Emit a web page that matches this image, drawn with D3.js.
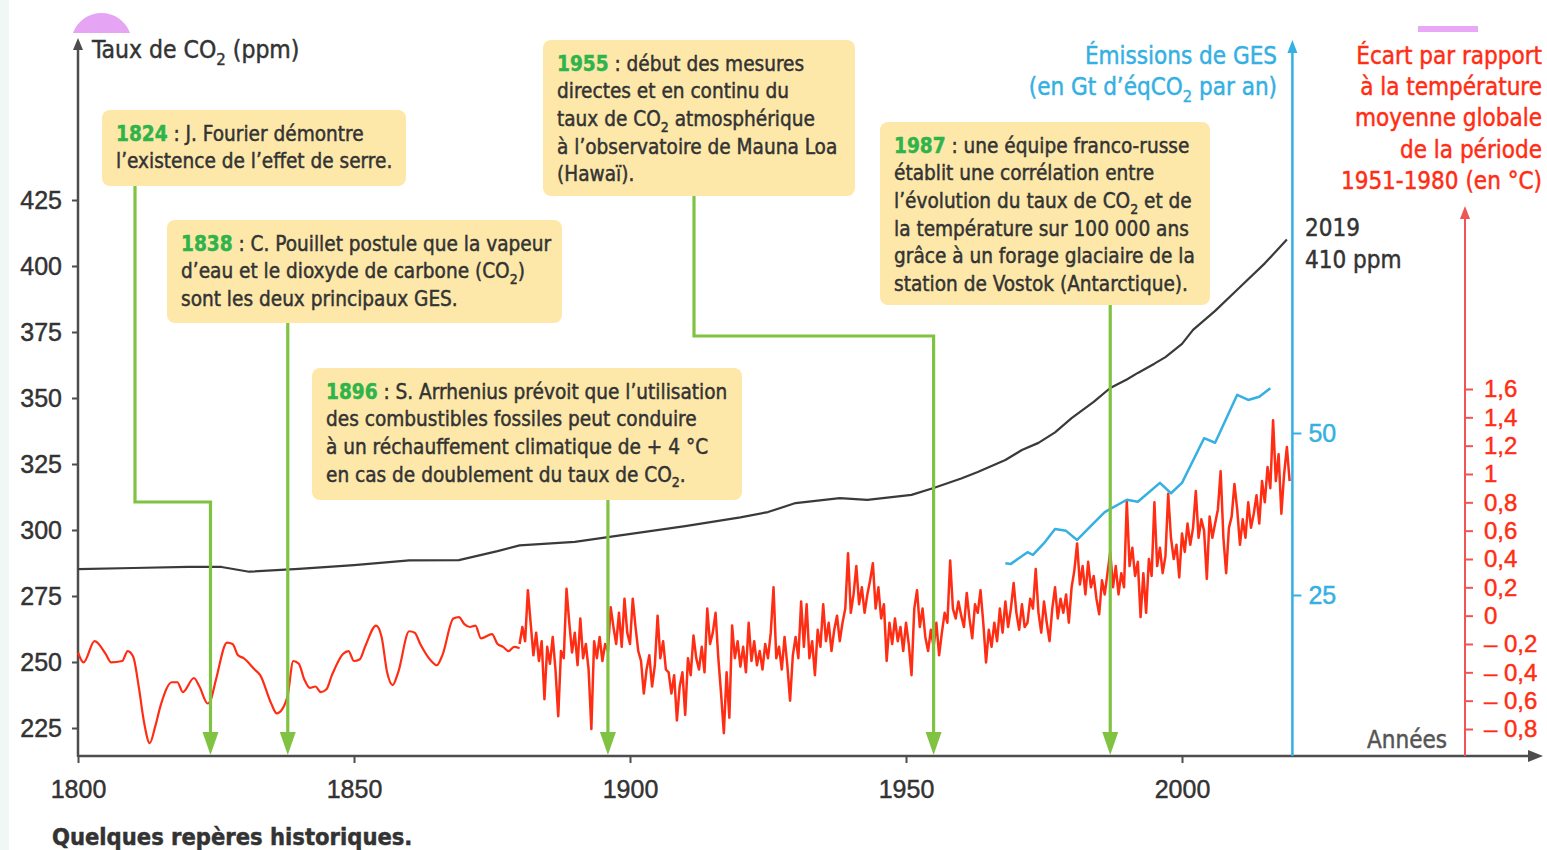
<!DOCTYPE html>
<html lang="fr">
<head>
<meta charset="utf-8">
<script src="https://cdn.jsdelivr.net/npm/d3@7"></script>
<style>
    body { margin: 0; background: #fff; }
    svg { display: block; font-family: "DejaVu Sans Condensed", "Liberation Sans", Arial, sans-serif; }
</style>
</head>
<body>
<script>
// --- data ---

// CO2 (ppm), left axis
const co2Years  = [1800, 1810, 1820, 1826, 1831, 1840, 1850, 1860, 1869, 1876, 1880, 1890, 1896, 1910, 1920, 1925, 1930, 1938, 1943, 1951, 1955, 1960, 1963, 1968, 1971, 1974, 1977, 1980, 1984, 1987, 1990, 1992, 1995, 1997, 2000, 2002, 2006, 2010, 2015, 2019];
const co2Values = [285.2, 285.6, 286.0, 286.0, 284.2, 285.3, 286.7, 288.5, 288.6, 292.0, 294.2, 295.5, 297.3, 301.5, 304.8, 306.8, 310.2, 312.1, 311.4, 313.3, 315.9, 319.5, 322.0, 326.5, 330.3, 333.0, 337.0, 342.4, 348.5, 353.8, 357.0, 359.5, 363.0, 365.5, 370.5, 375.8, 383.0, 391.0, 401.0, 410.0];

// GHG emissions (Gt CO2eq / year), blue axis
const gesYears  = [1968, 1969, 1972, 1973, 1975, 1977, 1979, 1981, 1984, 1986, 1990, 1992, 1996, 1998, 2000, 2004, 2006, 2010, 2012, 2014, 2016];
const gesValues = [29.9, 29.8, 31.6, 31.2, 33.0, 35.2, 34.9, 33.5, 36.1, 37.8, 39.7, 39.4, 42.3, 40.7, 42.3, 49.2, 48.5, 55.9, 55.1, 55.6, 56.9];

// temperature anomaly (°C), red axis -- smoothed reconstruction 1800-1880
const tempSmoothYears  = [1800, 1801, 1803, 1805, 1806, 1808, 1809, 1810, 1811, 1812, 1813, 1814, 1815, 1817, 1818, 1819, 1821, 1822, 1823.5, 1824, 1825, 1827, 1828, 1829, 1830, 1832, 1833, 1835, 1836, 1837, 1838, 1839, 1840, 1841, 1842, 1843, 1844, 1845, 1846, 1848, 1849, 1850, 1851, 1852, 1854, 1855, 1856, 1857, 1858, 1860, 1861, 1862, 1864, 1865, 1866, 1868, 1869, 1870, 1871, 1872, 1873, 1875, 1876, 1877, 1878, 1879, 1880];
const tempSmoothValues = [-0.26, -0.33, -0.18, -0.27, -0.33, -0.32, -0.25, -0.29, -0.50, -0.76, -0.90, -0.78, -0.63, -0.47, -0.47, -0.54, -0.44, -0.50, -0.62, -0.60, -0.45, -0.19, -0.20, -0.28, -0.30, -0.38, -0.42, -0.62, -0.69, -0.66, -0.56, -0.32, -0.34, -0.45, -0.51, -0.50, -0.54, -0.52, -0.42, -0.27, -0.25, -0.32, -0.31, -0.22, -0.07, -0.15, -0.40, -0.49, -0.40, -0.11, -0.12, -0.20, -0.32, -0.35, -0.28, -0.02, -0.01, -0.06, -0.08, -0.07, -0.16, -0.13, -0.20, -0.22, -0.25, -0.22, -0.23];

// measured anomaly 1880-2019, two readings per year (January, July)
const tempHalfStart = 1880;
const tempHalf = [
    -0.20, -0.08, -0.18, 0.18, -0.05, -0.28, -0.12, -0.32, -0.18, -0.59, -0.22, -0.34, -0.15, -0.38, -0.71, -0.25, -0.30, 0.19, -0.05, -0.26,
    -0.12, -0.35, -0.02, -0.30, -0.20, -0.38, -0.80, -0.18, -0.30, -0.15, -0.32, -0.20, -0.25, 0.06, -0.08, -0.20, 0.02, -0.22, 0.12, -0.12,
    -0.20, 0.12, -0.08, -0.25, -0.32, -0.55, -0.38, -0.28, -0.50, -0.35, 0.00, -0.30, -0.18, -0.38, -0.40, -0.55, -0.42, -0.74, -0.50, -0.40,
    -0.70, -0.30, -0.42, -0.14, -0.30, -0.38, -0.22, -0.40, 0.05, -0.20, -0.12, 0.02, -0.30, -0.55, -0.83, -0.40, -0.72, -0.07, -0.30, -0.18,
    -0.36, -0.22, -0.40, -0.05, -0.32, -0.18, -0.35, -0.25, -0.38, -0.20, -0.30, -0.12, 0.20, -0.30, -0.22, -0.38, -0.15, -0.35, -0.60, -0.28,
    -0.15, -0.30, 0.10, -0.22, 0.08, -0.30, -0.18, -0.42, -0.10, -0.22, 0.08, -0.18, -0.05, -0.25, -0.10, 0.00, -0.18, -0.05, 0.05, 0.44,
    0.02, 0.15, 0.35, 0.08, 0.20, 0.02, 0.15, 0.25, 0.37, 0.05, 0.20, -0.02, 0.08, -0.32, -0.05, -0.20, -0.02, -0.18, -0.08, -0.25,
    -0.05, -0.20, -0.42, 0.05, 0.18, -0.08, 0.05, -0.15, -0.25, -0.10, -0.22, -0.05, -0.28, -0.12, 0.02, -0.05, 0.39, 0.05, -0.02, 0.10,
    0.00, -0.08, 0.16, -0.02, -0.16, 0.08, 0.02, 0.18, -0.05, -0.33, -0.10, -0.22, -0.05, -0.18, 0.05, -0.12, 0.10, -0.08, 0.05, 0.23,
    0.02, -0.10, 0.08, -0.08, -0.05, 0.12, 0.05, 0.33, 0.02, -0.12, 0.10, -0.05, -0.18, 0.05, 0.20, -0.02, 0.12, 0.02, 0.15, -0.05,
    0.20, 0.32, 0.51, 0.22, 0.35, 0.15, 0.38, 0.20, 0.28, 0.12, 0.01, 0.25, 0.15, 0.30, 0.45, 0.20, 0.35, 0.15, 0.30, 0.20,
    0.81, 0.35, 0.48, 0.28, 0.38, -0.01, 0.30, 0.02, 0.40, 0.28, 0.80, 0.35, 0.48, 0.30, 0.42, 0.86, 0.55, 0.40, 0.50, 0.27,
    0.58, 0.45, 0.65, 0.50, 0.62, 0.88, 0.55, 0.68, 0.60, 0.26, 0.70, 0.55, 0.65, 0.75, 1.02, 0.55, 0.30, 0.62, 0.70, 0.93,
    0.75, 0.50, 0.68, 0.55, 0.80, 0.62, 0.72, 0.85, 0.65, 0.95, 0.80, 1.05, 0.90, 1.38, 0.95, 1.14, 0.72, 1.00, 1.19, 0.95
];

// ticks
const yearTicks = [1800, 1850, 1900, 1950, 2000];
const co2Ticks = [225, 250, 275, 300, 325, 350, 375, 400, 425];
const gesTicks = [25, 50];
const tempTicks = [-0.8, -0.6, -0.4, -0.2, 0, 0.2, 0.4, 0.6, 0.8, 1, 1.2, 1.4, 1.6];
const tempTickLabels = ["– 0,8", "– 0,6", "– 0,4", "– 0,2", "0", "0,2", "0,4", "0,6", "0,8", "1", "1,2", "1,4", "1,6"];

// historical landmarks ({2} = subscript)
const eventYears = [1824, 1838, 1896, 1955, 1987];
const eventTexts = [
    [" : J. Fourier démontre", "l’existence de l’effet de serre."],
    [" : C. Pouillet postule que la vapeur", "d’eau et le dioxyde de carbone (CO{2})", "sont les deux principaux GES."],
    [" : S. Arrhenius prévoit que l’utilisation", "des combustibles fossiles peut conduire", "à un réchauffement climatique de + 4 °C", "en cas de doublement du taux de CO{2}."],
    [" : début des mesures", "directes et en continu du", "taux de CO{2} atmosphérique", "à l’observatoire de Mauna Loa", "(Hawaï)."],
    [" : une équipe franco-russe", "établit une corrélation entre", "l’évolution du taux de CO{2} et de", "la température sur 100 000 ans", "grâce à un forage glaciaire de la", "station de Vostok (Antarctique)."]
];

// where the boxes sit on the page (layout, not data)
const boxLayout = [
    {x: 102, y: 110, w: 304, h: 76,  stemX: 135, elbowY: 502},
    {x: 167, y: 220, w: 395, h: 103, stemX: null},
    {x: 312, y: 368, w: 430, h: 132, stemX: null},
    {x: 543, y: 40,  w: 312, h: 156, stemX: 694, elbowY: 336},
    {x: 880, y: 122, w: 330, h: 183, stemX: null}
];

const W = 1547, H = 850;
const axisY = 756;
const grey = "#4d4d4d", blue = "#35b0e2", red = "#ff2d14", green = "#80c342";

let svg = d3.select("body").append("svg")
    .attr("width", W)
    .attr("height", H);

// page decorations
svg.append("rect").attr("x", 0).attr("y", 0).attr("width", 9).attr("height", H).attr("fill", "#eff8f4");
svg.append("path").attr("d", "M73,33 A30.3,30.3 0 0 1 130,33 Z").attr("fill", "#e6a4f4");
svg.append("rect").attr("x", 1418).attr("y", 26).attr("width", 60).attr("height", 6).attr("fill", "#e9a8f5");

// scales
let x = d3.scaleLinear().domain([1800, 2000]).range([78, 1182]);
let yCo2 = d3.scaleLinear().domain([225, 425]).range([728, 200]);
let yGes = d3.scaleLinear().domain([0, 50]).range([757, 433]);
let yTemp = d3.scaleLinear().domain([-0.8, 1.6]).range([729, 389]);

function arrowHead(cx, cy, dir, len, half, color) {
    // dir: "up", "down", "right"
    let p;
    if (dir === "up") p = [[cx, cy], [cx - half, cy + len], [cx + half, cy + len]];
    else if (dir === "down") p = [[cx, cy], [cx - half, cy - len], [cx + half, cy - len]];
    else p = [[cx, cy], [cx - len, cy - half], [cx - len, cy + half]];
    svg.append("path")
        .attr("d", "M" + p.join("L") + "Z")
        .attr("fill", color);
}

// text with {2} subscripts
function richText(sel, str, size) {
    let parts = str.split(/\{(\w)\}/);
    parts.forEach(function(s, i) {
        if (s === "") return;
        if (i % 2 === 1) {
            sel.append("tspan").attr("font-size", size * 0.68).attr("dy", size * 0.28).text(s);
        } else {
            let t = sel.append("tspan").text(s);
            if (i > 0) t.attr("dy", -size * 0.28);
        }
    });
}

// --- axes ---
// years
svg.append("g")
    .attr("transform", "translate(0," + axisY + ")")
    .call(d3.axisBottom(x).tickValues(yearTicks).tickFormat(d3.format("d")).tickSize(7).tickPadding(17))
    .call(function(g) {
        g.select(".domain").remove();
        g.selectAll("line").attr("stroke", grey).attr("stroke-width", 2);
        g.selectAll("text").attr("fill", "#333").attr("font-size", 25).attr("font-family", null);
    });
svg.append("line")
    .attr("x1", 78).attr("x2", 1532).attr("y1", axisY).attr("y2", axisY)
    .attr("stroke", grey).attr("stroke-width", 2.5);
arrowHead(1543, axisY, "right", 15, 6, grey);

// CO2
svg.append("g")
    .attr("transform", "translate(78,0)")
    .call(d3.axisLeft(yCo2).tickValues(co2Ticks).tickSize(6).tickPadding(10))
    .call(function(g) {
        g.select(".domain").remove();
        g.selectAll("line").attr("stroke", grey).attr("stroke-width", 2);
        g.selectAll("text").attr("fill", "#333").attr("font-size", 25).attr("font-family", null);
    });
svg.append("line")
    .attr("x1", 78).attr("x2", 78).attr("y1", axisY + 1).attr("y2", 46)
    .attr("stroke", grey).attr("stroke-width", 2.5);
arrowHead(78, 38, "up", 12, 5, grey);

// emissions
let xGes = x(2020);
svg.append("g")
    .attr("transform", "translate(" + xGes + ",0)")
    .call(d3.axisRight(yGes).tickValues(gesTicks).tickSize(9).tickPadding(7))
    .call(function(g) {
        g.select(".domain").remove();
        g.selectAll("line").attr("stroke", blue).attr("stroke-width", 2);
        g.selectAll("text").attr("fill", blue).attr("font-size", 25).attr("font-family", null);
    });
svg.append("line")
    .attr("x1", xGes).attr("x2", xGes).attr("y1", axisY).attr("y2", 50)
    .attr("stroke", blue).attr("stroke-width", 2.5);
arrowHead(xGes, 40, "up", 13, 5, blue);

// temperature
let xTemp = 1465;
svg.append("g")
    .attr("transform", "translate(" + xTemp + ",0)")
    .call(d3.axisRight(yTemp).tickValues(tempTicks).tickSize(8).tickPadding(11)
        .tickFormat(function(d, i) { return tempTickLabels[i]; }))
    .call(function(g) {
        g.select(".domain").remove();
        g.selectAll("line").attr("stroke", "#f05555").attr("stroke-width", 2);
        g.selectAll("text").attr("fill", red).attr("font-size", 24).attr("font-family", null);
    });
svg.append("line")
    .attr("x1", xTemp).attr("x2", xTemp).attr("y1", axisY).attr("y2", 216)
    .attr("stroke", "#f05555").attr("stroke-width", 2);
arrowHead(xTemp, 206, "up", 13, 5, "#f05555");

// --- series ---
let tempLineSmooth = d3.line()
    .x(function(d, i) { return x(tempSmoothYears[i]); })
    .y(function(d) { return yTemp(d); })
    .curve(d3.curveMonotoneX);

svg.append("path")
    .attr("d", tempLineSmooth(tempSmoothValues))
    .attr("fill", "none").attr("stroke", red).attr("stroke-width", 2.2)
    .attr("stroke-linejoin", "round");

let tempLine = d3.line()
    .x(function(d, i) { return x(tempHalfStart + i / 2); })
    .y(function(d) { return yTemp(d); });

svg.append("path")
    .attr("d", tempLine(tempHalf))
    .attr("fill", "none").attr("stroke", red).attr("stroke-width", 2.5)
    .attr("stroke-linejoin", "round");

let co2Line = d3.line()
    .x(function(d, i) { return x(co2Years[i]); })
    .y(function(d) { return yCo2(d); });

svg.append("path")
    .attr("d", co2Line(co2Values))
    .attr("fill", "none").attr("stroke", "#3a3a3a").attr("stroke-width", 2.2)
    .attr("stroke-linejoin", "round");

let gesLine = d3.line()
    .x(function(d, i) { return x(gesYears[i]); })
    .y(function(d) { return yGes(d); });

svg.append("path")
    .attr("d", gesLine(gesValues))
    .attr("fill", "none").attr("stroke", blue).attr("stroke-width", 2.5)
    .attr("stroke-linejoin", "round");

// --- landmarks: green stems, boxes, texts ---
eventYears.forEach(function(year, i) {
    let b = boxLayout[i];
    let xe = x(year);
    let top = b.y + b.h;
    let pts = b.stemX === null
        ? [[xe, top], [xe, axisY - 18]]
        : [[b.stemX, top], [b.stemX, b.elbowY], [xe, b.elbowY], [xe, axisY - 18]];
    svg.append("path")
        .attr("d", "M" + pts.join("L"))
        .attr("fill", "none").attr("stroke", green).attr("stroke-width", 3.2);
    arrowHead(xe, axisY - 1, "down", 23, 8, green);
});

let fs = 20.6;
eventYears.forEach(function(year, i) {
    let b = boxLayout[i];
    svg.append("rect")
        .attr("x", b.x).attr("y", b.y).attr("width", b.w).attr("height", b.h)
        .attr("rx", 8).attr("fill", "#fde8a9");
    eventTexts[i].forEach(function(line, j) {
        let t = svg.append("text")
            .attr("x", b.x + 14)
            .attr("y", b.y + 30.5 + j * 27.7)
            .attr("font-size", fs)
            .attr("fill", "#333");
        if (j === 0) {
            t.append("tspan").attr("fill", "#2fb34b").attr("font-weight", "bold").text(year);
        }
        richText(t, line, fs);
    });
});

// --- titles and labels ---
let tTitle = svg.append("text").attr("x", 92).attr("y", 58).attr("font-size", 24.5).attr("fill", "#333");
richText(tTitle, "Taux de CO{2} (ppm)", 24.5);

svg.append("text").attr("x", 1277).attr("y", 64).attr("font-size", 24).attr("fill", blue)
    .attr("text-anchor", "end").text("Émissions de GES");
let tGes = svg.append("text").attr("x", 1277).attr("y", 95).attr("font-size", 24).attr("fill", blue)
    .attr("text-anchor", "end");
richText(tGes, "(en Gt d’éqCO{2} par an)", 24);

["Écart par rapport", "à la température", "moyenne globale", "de la période", "1951-1980 (en °C)"]
    .forEach(function(s, i) {
        svg.append("text")
            .attr("x", 1542).attr("y", 64 + i * 31.2)
            .attr("font-size", 24).attr("fill", red)
            .attr("text-anchor", "end")
            .text(s);
    });

svg.append("text").attr("x", 1305).attr("y", 236).attr("font-size", 24).attr("fill", "#333").text("2019");
svg.append("text").attr("x", 1305).attr("y", 268).attr("font-size", 24).attr("fill", "#333").text("410 ppm");
svg.append("text").attr("x", 1447).attr("y", 748).attr("font-size", 24).attr("fill", "#555")
    .attr("text-anchor", "end").text("Années");

svg.append("text").attr("x", 52).attr("y", 845).attr("font-size", 23.5).attr("font-weight", "bold")
    .attr("fill", "#333").text("Quelques repères historiques.");

// the print font is a medium weight: thicken the regular glyphs a little
svg.selectAll("text, tspan").each(function() {
    let f = d3.select(this).attr("fill");
    if (f) d3.select(this).attr("stroke", f).attr("stroke-width", 0.45);
});
</script>
</body>
</html>
